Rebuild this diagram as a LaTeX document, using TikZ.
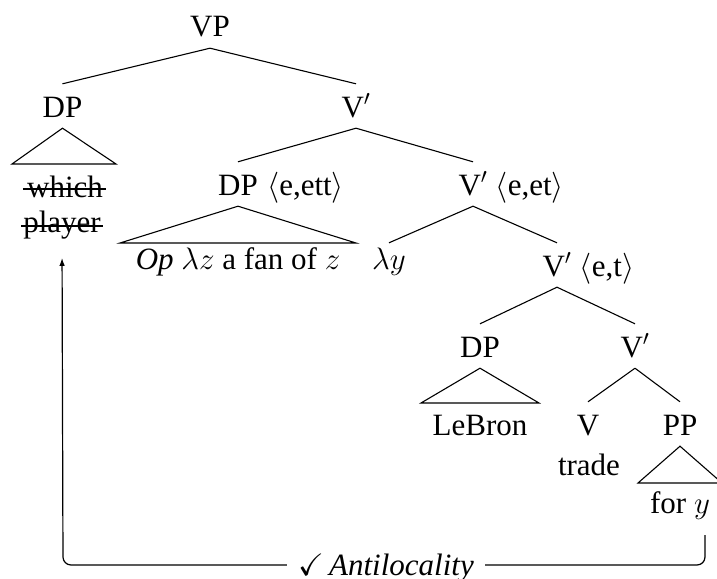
\documentclass[tikz,border=0pt]{standalone}
\usepackage{fix-cm}
\usepackage{amssymb}
\usepackage{fontspec}
\setmainfont{Liberation Serif}
\usetikzlibrary{arrows.meta}

\tikzset{
  every node/.style={font=\fontsize{31pt}{36pt}\selectfont},
  cat/.style={inner sep=0pt, anchor=base, text height=33pt, text depth=11pt},
  leaf/.style={inner sep=0pt, anchor=base},
  ann/.style={inner sep=0pt, anchor=base west},
  branch/.style={line width=1.1pt},
  roof/.style={line width=1.1pt, line join=miter},
  strike/.style={line width=1.2pt},
  move/.style={line width=1.2pt, rounded corners=8pt,
    -{Latex[length=8pt,width=5.5pt]}},
  tag/.style={fill=white, inner xsep=11pt, inner ysep=2pt, anchor=base},
}

\begin{document}
\begin{tikzpicture}[x=1pt,y=-1pt]
\useasboundingbox (0,0) rectangle (717,578);

% categories
\node[cat] (vp)  at (210,37)  {VP};
\node[cat] (dp1) at (62.5,117) {DP};
\node[cat] (v1)  at (356,117) {V$^\prime$};
\node[cat] (dp2) at (238,195) {DP};
\node[ann] (dp2t) at ([xshift=9pt]dp2.base east) {$\langle$e,ett$\rangle$};
\node[cat] (v2)  at (473,195) {V$^\prime$};
\node[ann] (v2t) at ([xshift=8pt]v2.base east) {$\langle$e,et$\rangle$};
\node[cat, text height=26pt] (lam) at (389,269) {$\lambda y$};
\node[cat] (v3)  at (557,276) {V$^\prime$};
\node[ann] (v3t) at ([xshift=8pt]v3.base east) {$\langle$e,t$\rangle$};
\node[cat] (dp3) at (480,357) {DP};
\node[cat] (v4)  at (635,357) {V$^\prime$};
\node[cat] (v)   at (588,435) {V};
\node[cat] (pp)  at (680,435) {PP};

% terminal strings
\node[leaf] (which)  at (65,197)  {which};
\node[leaf] (player) at (62,232)  {player};
\node[leaf] (op)     at (238,269) {\textit{Op} $\lambda z$ a fan of $z$};
\node[leaf] (lebron) at (480,435) {LeBron};
\node[leaf] (trade)  at (589,475) {trade};
\node[leaf] (fory)   at (680,513) {for $y$};

% the moved phrase is struck through
\draw[strike] ([xshift=-4pt,yshift=8pt]which.base west) -- ([xshift=3pt,yshift=8pt]which.base east);
\draw[strike] ([xshift=-2pt,yshift=6pt]player.base west) -- ([xshift=2pt,yshift=6pt]player.base east);

% branches
\draw[branch] (vp.south) -- (dp1.north);
\draw[branch] (vp.south) -- (v1.north);
\draw[branch] (v1.south) -- (dp2.north);
\draw[branch] (v1.south) -- (v2.north);
\draw[branch] (v2.south) -- (lam.north);
\draw[branch] (v2.south) -- (v3.north);
\draw[branch] (v3.south) -- (dp3.north);
\draw[branch] (v3.south) -- (v4.north);
\draw[branch] (v4.south) -- (v.north);
\draw[branch] (v4.south) -- (pp.north);

% roofs
\coordinate (r1l) at (12,164);   \coordinate (r1r) at (116,164);
\coordinate (r2l) at (120,243);  \coordinate (r2r) at (356,243);
\coordinate (r3l) at (421,403);  \coordinate (r3r) at (539,403);
\coordinate (r4l) at (638,483);  \coordinate (r4r) at (722,483);
\draw[roof] (dp1.south) -- (r1l) -- (r1r) -- cycle;
\draw[roof] (dp2.south) -- (r2l) -- (r2r) -- cycle;
\draw[roof] (dp3.south) -- (r3l) -- (r3r) -- cycle;
\draw[roof] (pp.south)  -- (r4l) -- (r4r) -- cycle;

% movement
\coordinate (trace) at (705,535);
\coordinate (bend)  at (63,565);
\draw[move, shorten >=19pt] (trace) |- (bend) -- (player.south);
\node[tag] (anti) at (386,575) {$\checkmark$\,\textit{Antilocality}};
\end{tikzpicture}
\end{document}
